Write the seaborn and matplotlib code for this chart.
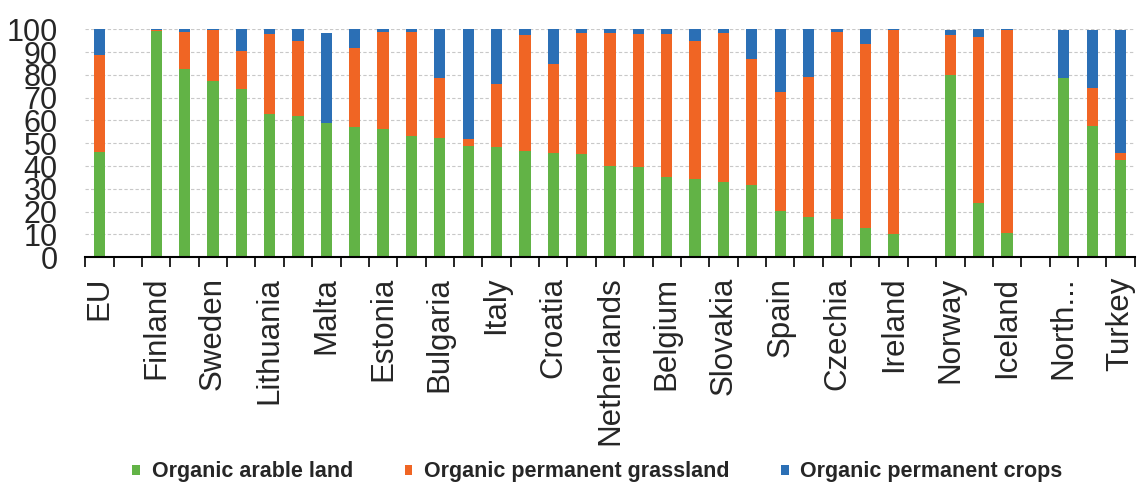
import numpy as np
import pandas as pd
import matplotlib
matplotlib.use("Agg")
import matplotlib.pyplot as plt
import seaborn as sns
from matplotlib.patches import Patch
from matplotlib.transforms import Bbox, TransformedBbox

countries = ["EU", "gap1", "Finland", "Denmark", "Sweden", "Hungary", "Lithuania", "Germany",
             "Malta", "France", "Estonia", "Latvia", "Bulgaria", "Cyprus", "Italy", "Luxembourg",
             "Croatia", "Poland", "Netherlands", "Romania", "Belgium", "Austria", "Slovakia",
             "Portugal", "Spain", "Greece", "Czechia", "Slovenia", "Ireland", "gap2", "Norway",
             "Switzerland", "Iceland", "gap3", "North...", "Serbia", "Turkey"]
arable = [46.1, np.nan, 99.2, 82.7, 77.2, 73.7, 62.7, 61.8, 59.1, 57.0, 56.4, 53.3, 52.4, 49.0,
          48.2, 46.4, 45.7, 45.5, 40.0, 39.7, 35.4, 34.3, 32.9, 31.5, 20.3, 17.5, 16.8, 12.9,
          10.4, np.nan, 80.1, 23.8, 10.5, np.nan, 78.8, 57.5, 42.5]
grassland = [42.6, np.nan, 0.6, 16.1, 22.5, 16.8, 35.1, 33.1, 0.0, 34.8, 42.4, 45.5, 26.1, 3.0,
             27.9, 51.3, 39.2, 52.9, 58.2, 58.2, 62.5, 60.4, 65.5, 55.4, 52.2, 61.7, 82.0, 80.5,
             89.2, np.nan, 17.6, 73.0, 89.1, np.nan, 0.0, 16.9, 3.3]
crops = [11.3, np.nan, 0.2, 1.2, 0.3, 9.5, 2.2, 5.1, 39.1, 8.2, 1.2, 1.2, 21.5, 48.0, 23.9, 2.3,
         15.1, 1.6, 1.8, 2.1, 2.1, 5.3, 1.6, 13.1, 27.5, 20.8, 1.2, 6.6, 0.4, np.nan, 2.2, 3.2,
         0.4, np.nan, 20.9, 25.3, 53.8]
series_names = ["Organic arable land", "Organic permanent grassland", "Organic permanent crops"]
colors = ["#62B346", "#F06524", "#2B6FB5"]

df = pd.DataFrame({"country": countries, "arable": arable,
                   "grassland": grassland, "crops": crops})
df["c1"] = df["arable"]
df["c2"] = df["arable"] + df["grassland"]
df["c3"] = df["c2"] + df["crops"]

sns.set_theme(style="white")
plt.rcParams["font.family"] = ["Liberation Sans", "DejaVu Sans"]

fig = plt.figure(figsize=(11.37, 4.84), dpi=100)
ax = fig.add_axes([0.075, 0.4684, 0.923, 0.4711])

for col, c in zip(["c3", "c2", "c1"], [colors[2], colors[1], colors[0]]):
    sns.barplot(data=df, x="country", y=col, order=countries, color=c, saturation=1,
                width=0.4, errorbar=None, ax=ax, linewidth=0)

n = len(countries)
ax.set_xlim(-0.5, n - 0.5)
ax.set_ylim(0, 100)
ax.set_yticks(np.arange(0, 101, 10))
ax.yaxis.grid(True, color="#c8c8c8", linestyle=(0, (3, 2)), linewidth=0.8)
ax.set_axisbelow(True)
for s in ["left", "right", "top"]:
    ax.spines[s].set_visible(False)
ax.spines["bottom"].set_color("black")
ax.spines["bottom"].set_linewidth(1.5)
ax.set_xlabel("")
ax.set_ylabel("")

ax.set_xticks(range(n))
ax.set_xticklabels([c if i % 2 == 0 else "" for i, c in enumerate(countries)],
                   rotation=90, fontsize=22.5)
ax.set_xticks(np.arange(-0.5, n, 1), minor=True)
ax.tick_params(axis="x", which="major", length=0, pad=14)
ax.tick_params(axis="x", which="minor", length=7, width=1.2, color="black", bottom=True)
ax.tick_params(axis="y", length=0, pad=20, labelsize=22)

handles = [Patch(facecolor=c, edgecolor="none") for c in colors]
fig.legend(handles, series_names, loc="center", bbox_to_anchor=(0.5255, 0.025), ncol=3,
           frameon=False, handlelength=0.35, handleheight=0.35, handletextpad=0.55,
           columnspacing=2.4, prop={"size": 15.5, "weight": "bold"})

clip = TransformedBbox(Bbox([[0, 1 - 447 / 484], [1, 1]]), fig.transFigure)
for lab in ax.get_xticklabels():
    lab.set_clip_box(clip)
    lab.set_clip_on(True)

fig.savefig("out.png", dpi=100)
